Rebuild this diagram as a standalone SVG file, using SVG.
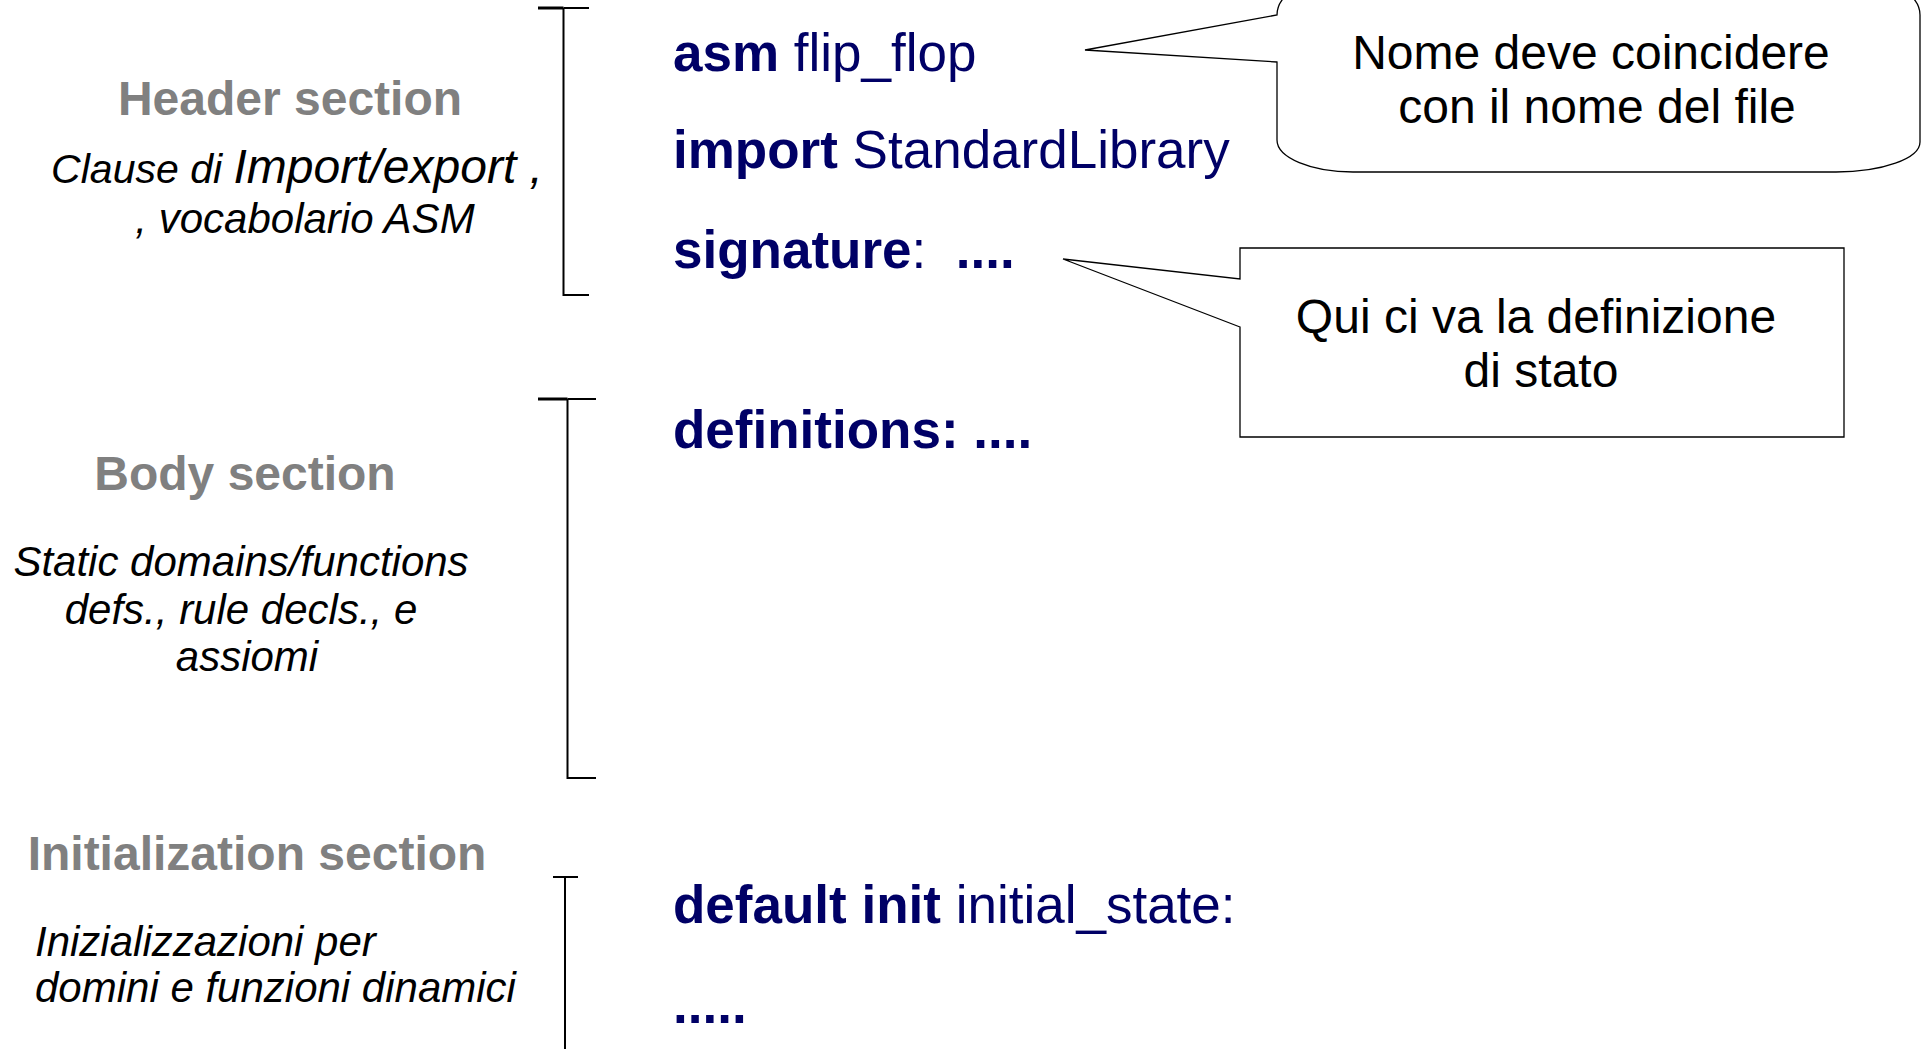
<svg xmlns="http://www.w3.org/2000/svg" width="1926" height="1049" viewBox="0 0 1926 1049">
  <style>
    text { font-family: "Liberation Sans", Arial, sans-serif; white-space: pre; }
    .sect { font-size: 48px; font-weight: bold; fill: #808080; text-anchor: middle; }
    .desc { font-size: 42px; font-style: italic; fill: #000000; }
    .code { font-size: 53px; fill: #000066; }
    .kw { font-weight: bold; }
    .note { font-size: 48px; fill: #000000; text-anchor: middle; }
    .bracket { fill: none; stroke: #000000; stroke-width: 2; }
    .callout { fill: #ffffff; stroke: #000000; stroke-width: 1.3; stroke-linejoin: miter; }
  </style>
  <rect width="1926" height="1049" fill="#ffffff"/>

  <!-- section brackets -->
  <g id="connectors">
    <g id="bracket-header">
      <path class="bracket" d="M563.5,8 V295 H589"/>
      <path class="bracket" d="M563.5,8 H589"/>
      <path d="M538,8 H563.5" stroke="#000" stroke-width="3" fill="none"/>
    </g>
    <g id="bracket-body">
      <path class="bracket" d="M567.5,399 V778 H596"/>
      <path class="bracket" d="M567.5,399 H596"/>
      <path d="M538,399 H567.5" stroke="#000" stroke-width="3" fill="none"/>
    </g>
    <g id="bracket-init">
      <path class="bracket" d="M553,877 H578 M565,877 V1049"/>
    </g>
  </g>

  <!-- left column: section titles and descriptions -->
  <g id="header-section">
    <text class="sect" x="290" y="115">Header section</text>
    <text class="desc" x="297" y="183" text-anchor="middle"><tspan font-size="41">Clause di </tspan><tspan font-size="48">Import/export ,</tspan></text>
    <text class="desc" x="305" y="233" text-anchor="middle" font-size="37">, vocabolario ASM</text>
  </g>
  <g id="body-section">
    <text class="sect" x="245" y="490">Body section</text>
    <text class="desc" x="241" y="576" text-anchor="middle" font-size="42.3">Static domains/functions</text>
    <text class="desc" x="241" y="624" text-anchor="middle">defs., rule decls., e</text>
    <text class="desc" x="247" y="671" text-anchor="middle">assiomi</text>
  </g>
  <g id="init-section">
    <text class="sect" x="257" y="870">Initialization section</text>
    <text class="desc" x="35" y="956">Inizializzazioni per</text>
    <text class="desc" x="35" y="1002" font-size="42.4">domini e funzioni dinamici</text>
  </g>

  <!-- ASM source skeleton -->
  <g id="code">
    <text class="code" x="673" y="71"><tspan class="kw">asm</tspan> flip_flop</text>
    <text class="code" x="673" y="168" font-size="53.3"><tspan class="kw">import</tspan> StandardLibrary</text>
    <text class="code" x="673" y="268"><tspan class="kw">signature</tspan>:  <tspan class="kw">....</tspan></text>
    <text class="code kw" x="673" y="448">definitions: ....</text>
    <text class="code" x="673" y="923"><tspan class="kw">default init</tspan> initial_state:</text>
    <text class="code kw" x="673" y="1023">.....</text>
  </g>

  <!-- callout on the machine name -->
  <g id="note-name">
    <path class="callout" d="M1277,62 L1085,50 L1277,15 A72 40 0 0 1 1349,-25 L1845,-25 A75 40 0 0 1 1920,15 L1920,142 A84 30 0 0 1 1836,172 L1353,172 A76 32 0 0 1 1277,140 Z"/>
    <text class="note" x="1591" y="69">Nome deve coincidere</text>
    <text class="note" x="1597" y="123">con il nome del file</text>
  </g>

  <!-- callout on the signature -->
  <g id="note-signature">
    <path class="callout" d="M1240,327 L1063,259 L1240,279 V248 H1844 V437 H1240 Z"/>
    <text class="note" x="1536" y="333">Qui ci va la definizione</text>
    <text class="note" x="1541" y="387">di stato</text>
  </g>
</svg>
